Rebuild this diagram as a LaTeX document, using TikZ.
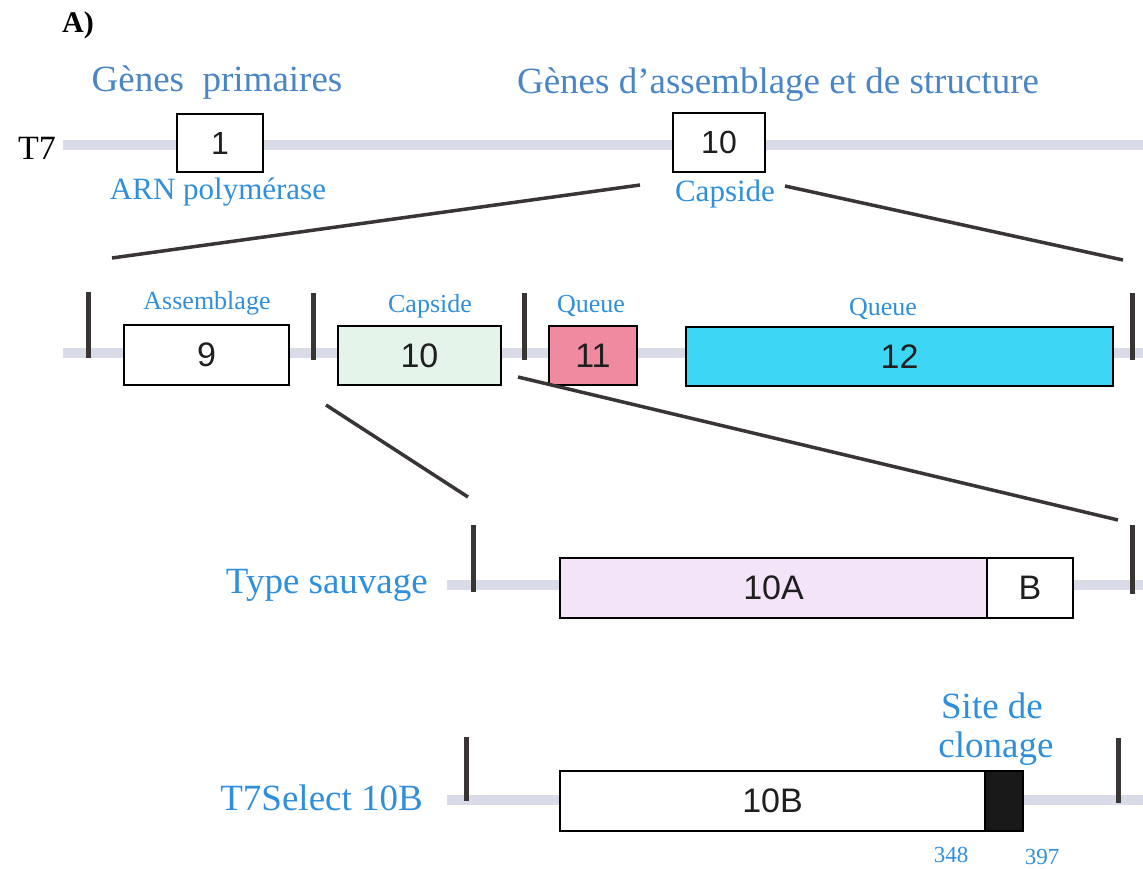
\documentclass[tikz,border=0pt]{standalone}
\usepackage{fontspec}
\setmainfont{Liberation Serif}
\newfontfamily\arial{Liberation Sans}
\definecolor{dna}{HTML}{D9DBE8}
\definecolor{bar}{HTML}{3A3535}
\definecolor{lblue}{HTML}{2F8FDC}
\definecolor{hblue}{HTML}{4A86C5}
\definecolor{mint}{HTML}{E4F4EA}
\definecolor{pinkg}{HTML}{F08AA0}
\definecolor{cyang}{HTML}{3DD6F5}
\definecolor{lav}{HTML}{F4E4F8}
\begin{document}
\begin{tikzpicture}[x=1pt,y=-1pt,
  dnaline/.style={draw=dna,line width=9.5pt},
  vbar/.style={draw=bar,line width=5pt},
  zoomline/.style={draw=bar,line width=3.5pt},
  gene/.style={draw=black,line width=2.2pt,inner sep=0pt,font=\arial\fontsize{34}{34}\selectfont,text=black!88},
  lbl/.style={text=lblue,inner sep=0pt},
  hdr/.style={text=hblue,inner sep=0pt,font=\fontsize{37}{40}\selectfont}]
\useasboundingbox (0,0) rectangle (1143,869);
% title
\node[inner sep=0pt,font=\bfseries\fontsize{30}{32}\selectfont] (title) at (78,25) {A)};
% row 1
\draw[dnaline] (63,145) -- (1143,145);
\node[inner sep=0pt,font=\fontsize{34}{36}\selectfont] (t7) at (37,148) {T7};
\node[gene,fill=white,minimum width=86pt,minimum height=58pt,font=\arial\fontsize{32}{32}\selectfont] (g1) at (220,143) {1};
\node[gene,fill=white,minimum width=92pt,minimum height=59pt,font=\arial\fontsize{32}{32}\selectfont] (g10t) at (719,142.5) {10};
\node[hdr] (h1) at (217,83) {Gènes\ \ primaires};
\node[hdr] (h2) at (778,85) {Gènes d’assemblage et de structure};
\node[lbl,font=\fontsize{31}{33}\selectfont] (arn) at (218,192) {ARN polymérase};
\node[lbl,font=\fontsize{31}{33}\selectfont] (capt) at (725,194) {Capside};
\coordinate (z1a) at (640,185);
\coordinate (z1b) at (112,258);
\coordinate (z1c) at (785,186);
\coordinate (z1d) at (1123,260);
\draw[zoomline] (z1a) -- (z1b);
\draw[zoomline] (z1c) -- (z1d);
% row 2
\draw[dnaline] (63,353) -- (1143,353);
\coordinate (b1t) at (88,292); \coordinate (b1b) at (88,358);
\coordinate (b2t) at (313,293); \coordinate (b2b) at (313,360);
\coordinate (b3t) at (524,293); \coordinate (b3b) at (524,360);
\coordinate (b4t) at (1132,293); \coordinate (b4b) at (1132,360);
\draw[vbar] (b1t) -- (b1b);
\draw[vbar] (b2t) -- (b2b);
\draw[vbar] (b3t) -- (b3b);
\draw[vbar] (b4t) -- (b4b);
\node[gene,fill=white,minimum width=165pt,minimum height=60pt] (g9) at (206.5,355) {9};
\node[gene,fill=mint,minimum width=163pt,minimum height=59pt] (g10) at (419.5,355.5) {10};
\node[gene,fill=pinkg,minimum width=88pt,minimum height=59pt] (g11) at (593,355.5) {11};
\node[gene,fill=cyang,minimum width=427pt,minimum height=59pt] (g12) at (899.5,356.5) {12};
\node[lbl,font=\fontsize{26}{28}\selectfont] (l9) at (207,303) {Assemblage};
\node[lbl,font=\fontsize{26}{28}\selectfont] (l10) at (430,306) {Capside};
\node[lbl,font=\fontsize{26}{28}\selectfont] (l11) at (591,306) {Queue};
\node[lbl,font=\fontsize{26}{28}\selectfont] (l12) at (883,309) {Queue};
\coordinate (z2a) at (326,405);
\coordinate (z2b) at (468,497);
\coordinate (z2c) at (518,377);
\coordinate (z2d) at (1118,520);
\draw[zoomline] (z2a) -- (z2b);
\draw[zoomline] (z2c) -- (z2d);
% row 3
\draw[dnaline] (447,585) -- (1143,585);
\coordinate (c1t) at (473,525); \coordinate (c1b) at (473,592);
\coordinate (c2t) at (1132,525); \coordinate (c2b) at (1132,594);
\draw[vbar] (c1t) -- (c1b);
\draw[vbar] (c2t) -- (c2b);
\node[gene,fill=lav,minimum width=427pt,minimum height=60pt] (g10a) at (773.5,588) {10A};
\node[gene,fill=white,minimum width=86pt,minimum height=60pt] (gb) at (1030,588) {B};
\node[lbl,anchor=east,font=\fontsize{37}{40}\selectfont] (ts) at (428,585) {Type sauvage};
% row 4
\draw[dnaline] (447,800) -- (1143,800);
\coordinate (d1t) at (466,737); \coordinate (d1b) at (466,801);
\coordinate (d2t) at (1118,738); \coordinate (d2b) at (1118,803);
\draw[vbar] (d1t) -- (d1b);
\draw[vbar] (d2t) -- (d2b);
\node[gene,fill=white,minimum width=425pt,minimum height=60pt] (g10b) at (772.5,801) {10B};
\node[draw=black,fill=black!90,line width=2.2pt,inner sep=0pt,minimum width=38pt,minimum height=60pt] (site) at (1004,801) {};
\node[lbl,anchor=east,font=\fontsize{37}{40}\selectfont] (t7s) at (423,798) {T7Select 10B};
\node[lbl,font=\fontsize{37}{40}\selectfont] (s1) at (992,706) {Site de};
\node[lbl,font=\fontsize{37}{40}\selectfont] (s2) at (996,749) {clonage};
\node[lbl,font=\fontsize{23}{25}\selectfont] (n348) at (951,855) {348};
\node[lbl,font=\fontsize{23}{25}\selectfont] (n397) at (1042,857) {397};
\end{tikzpicture}
\end{document}
